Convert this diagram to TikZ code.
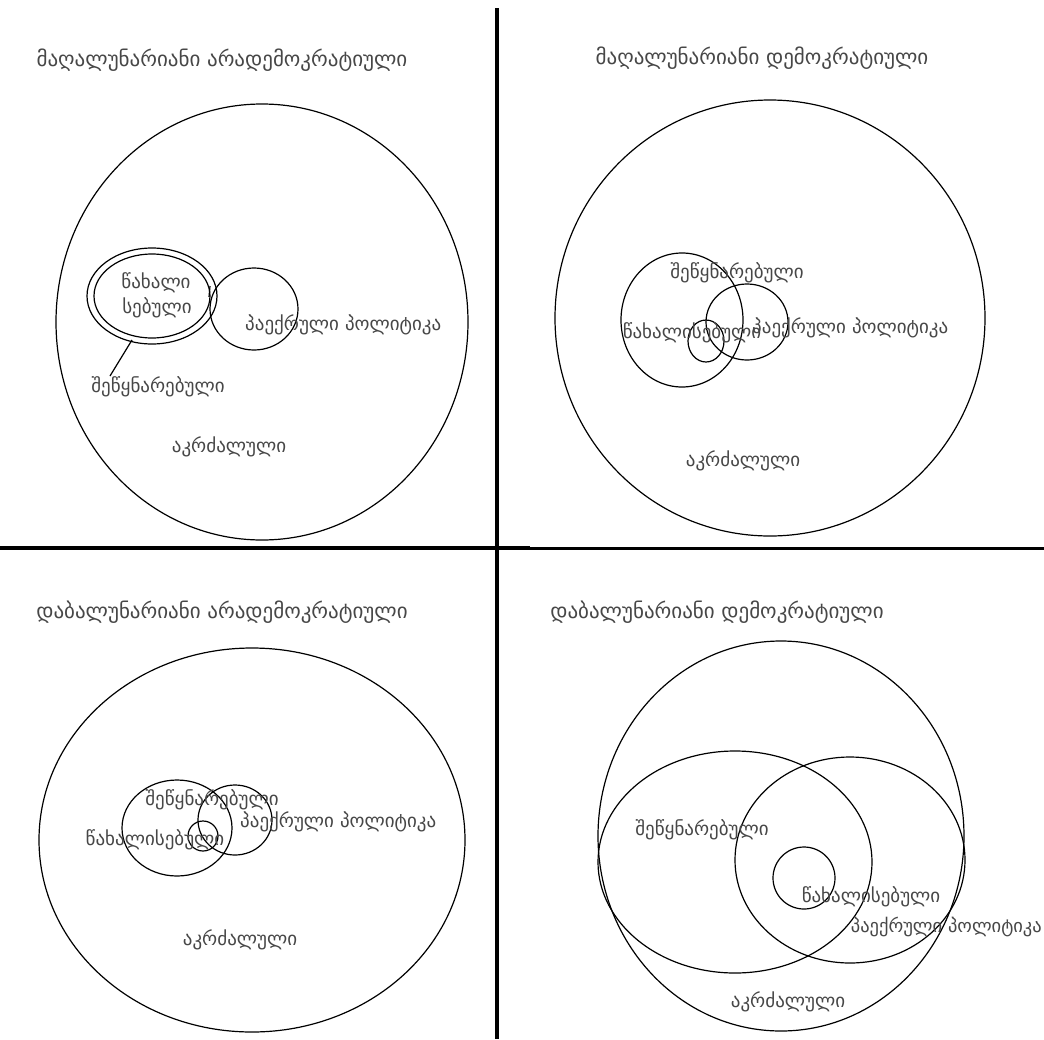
\documentclass[tikz,border=0pt]{standalone}
\usepackage{fontspec}
\newfontfamily\kafont{DejaVu Sans}
\usepackage{tikz}
\usetikzlibrary{positioning}

\begin{document}
\begin{tikzpicture}[x=1pt, y=-1pt,
    title/.style={font=\kafont\fontsize{21}{24}\selectfont, text=black!72},
    lbl/.style={font=\kafont\fontsize{19}{22}\selectfont, text=black!72, inner sep=0pt},
    oval/.style={draw, line width=1.2pt},
    rule/.style={line width=4pt}
  ]
  \useasboundingbox (0,0) rectangle (1044,1039);

  % dividers
  \coordinate (vtop) at (497,8);
  \coordinate (vbot) at (497,1039);
  \coordinate (hleft) at (0,548);
  \coordinate (hmid) at (530,548);
  \coordinate (hright) at (1044,548);
  \draw[rule] (vtop) -- (vbot);
  \draw[rule] (hleft) -- (hmid);
  \draw[line width=3pt] (hmid) -- (hright);

  % top left
  \node[title] (tltitle) at (222,60) {მაღალუნარიანი არადემოკრატიული};
  \draw[oval] (262,322) ellipse [x radius=206, y radius=218];
  \draw[oval] (152,296) ellipse [x radius=65, y radius=48];
  \draw[oval] (152,296) ellipse [x radius=58, y radius=42];
  \draw[oval] (254,309) ellipse [x radius=44, y radius=41];
  \draw[line width=1.2pt] (210,286) -- (209,297);
  \node[lbl] (tlwax) at (156,283) {წახალი};
  \node[lbl] (tlseb) at (157,308) {სებული};
  \node[lbl, anchor=west] (tlpae) at (245,325) {პაექრული პოლიტიკა};
  \node[lbl] (tlshe) at (158,387) {შეწყნარებული};
  \node[lbl] (tlakr) at (229,447) {აკრძალული};
  \coordinate (tltouch) at (132,340);
  \coordinate (tlfoot) at (110,376);
  \draw[line width=1.2pt] (tlfoot) -- (tltouch);

  % top right
  \node[title] (trtitle) at (762,58) {მაღალუნარიანი დემოკრატიული};
  \draw[oval] (770,318) ellipse [x radius=215, y radius=218];
  \draw[oval] (682,320) ellipse [x radius=61, y radius=67];
  \draw[oval] (747,322) ellipse [x radius=41, y radius=38];
  \draw[oval] (706,341) ellipse [x radius=18, y radius=21];
  \node[lbl] (trshe) at (737,273) {შეწყნარებული};
  \node[lbl] (trwax) at (692,333) {წახალისებული};
  \node[lbl, anchor=west] (trpae) at (752,328) {პაექრული პოლიტიკა};
  \node[lbl] (trakr) at (743,461) {აკრძალული};

  % bottom left
  \node[title] (bltitle) at (222,612) {დაბალუნარიანი არადემოკრატიული};
  \draw[oval] (252,840) ellipse [x radius=213, y radius=192];
  \draw[oval] (177,828) ellipse [x radius=55, y radius=48];
  \draw[oval] (235,820) ellipse [x radius=37, y radius=35];
  \draw[oval] (203,836) circle [radius=15];
  \node[lbl] (blshe) at (212,800) {შეწყნარებული};
  \node[lbl, anchor=west] (blpae) at (240,822) {პაექრული პოლიტიკა};
  \node[lbl] (blwax) at (155,840) {წახალისებული};
  \node[lbl] (blakr) at (240,940) {აკრძალული};

  % bottom right
  \node[title] (brtitle) at (717,612) {დაბალუნარიანი დემოკრატიული};
  \draw[oval] (781,836) ellipse [x radius=183, y radius=195];
  \draw[oval] (735,862) ellipse [x radius=137, y radius=111];
  \draw[oval] (850,860) ellipse [x radius=115, y radius=103];
  \draw[oval] (804,878) circle [radius=31];
  \node[lbl] (brshe) at (702,830) {შეწყნარებული};
  \node[lbl] (brwax) at (871,897) {წახალისებული};
  \node[lbl, anchor=east, font=\kafont\fontsize{18.5}{22}\selectfont] (brpae) at (1042,927) {პაექრული პოლიტიკა};
  \node[lbl] (brakr) at (788,1002) {აკრძალული};
\end{tikzpicture}
\end{document}
